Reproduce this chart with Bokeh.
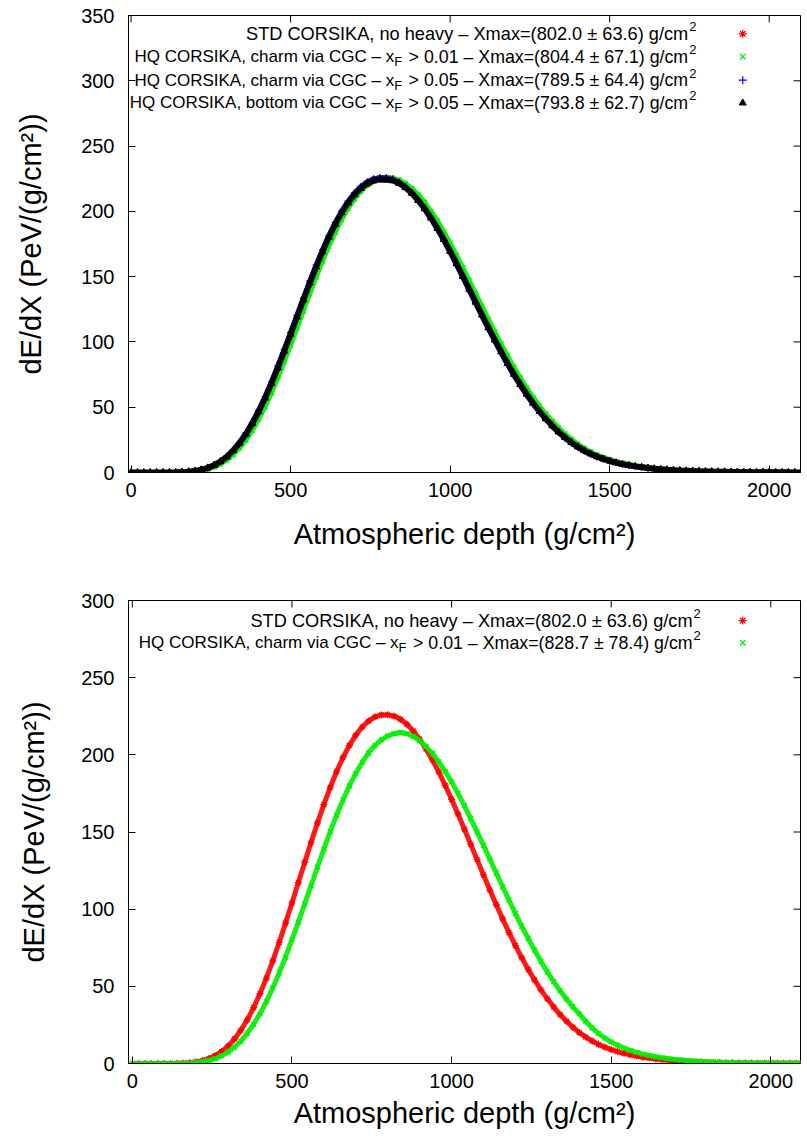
import math
from bokeh.plotting import figure
from bokeh.models import Range1d, Label, FixedTicker
from bokeh.layouts import column
from bokeh.embed import file_html
from bokeh.resources import INLINE

# ---------------- data ----------------
depth = list(range(0, 2101, 20))  # atmospheric depth, g/cm^2

std_no_heavy = [0, 0, 0, 0, 0, 0.01, 0.03, 0.09, 0.23, 0.52, 1.03, 1.88, 3.2, 5.1, 7.8, 11.3,
                15.9, 21.5, 28.3, 36.2, 45.3, 55.4, 66.5, 78.4, 91.0, 104.0, 117.2, 130.3, 143.3,
                155.9, 167.8, 179.0, 189.2, 198.3, 206.1, 212.8, 218.0, 221.9, 224.6, 225.8, 225.9,
                225.1, 223.0, 219.8, 215.5, 210.1, 203.8, 196.7, 188.8, 180.2, 171.2,
                161.7, 151.9, 142.0, 132.1, 122.2, 112.4, 102.9, 93.7, 84.8, 76.4,
                68.5, 61.0, 54.1, 47.7, 41.9, 36.6, 31.7, 27.4, 23.5, 20.1,
                17.1, 14.6, 12.4, 10.6, 9.0, 7.7, 6.6, 5.6, 4.8, 4.1,
                3.5, 2.95, 2.5, 2.15, 1.85, 1.55, 1.35, 1.15, 0.97, 0.83,
                0.7, 0.6, 0.52, 0.44, 0.37, 0.32, 0.27, 0.23, 0.2, 0.17,
                0.15, 0.12, 0.1, 0.09, 0.08]

charm_001_top = [0, 0, 0, 0, 0, 0.0, 0.02, 0.06, 0.16, 0.37, 0.77, 1.45, 2.5, 4.1, 6.4, 9.5,
                 13.6, 18.7, 24.9, 32.2, 40.7, 50.3, 60.9, 72.4, 84.7, 97.5, 110.6, 123.7, 136.8,
                 149.6, 161.8, 173.4, 184.1, 193.7, 202.2, 209.4, 215.4, 219.9, 223.2, 225.2, 225.8,
                 225.5, 224.0, 221.4, 217.6, 212.8, 207.0, 200.2, 192.8, 184.5, 175.7,
                 166.4, 156.8, 147.0, 137.0, 127.2, 117.3, 107.7, 98.3, 89.3, 80.6,
                 72.5, 64.8, 57.6, 50.9, 44.8, 39.3, 34.2, 29.6, 25.5, 21.8,
                 18.6, 15.9, 13.5, 11.5, 9.8, 8.4, 7.2, 6.1, 5.2, 4.45,
                 3.8, 3.2, 2.7, 2.3, 2.0, 1.7, 1.45, 1.25, 1.06, 0.9,
                 0.77, 0.65, 0.56, 0.48, 0.4, 0.35, 0.3, 0.25, 0.22, 0.18,
                 0.16, 0.14, 0.11, 0.1, 0.09]

charm_005_top = [0, 0, 0, 0, 0, 0.02, 0.05, 0.13, 0.3, 0.65, 1.24, 2.2, 3.7, 5.8, 8.7, 12.5,
                 17.3, 23.2, 30.3, 38.5, 47.8, 58.2, 69.5, 81.6, 94.3, 107.3, 120.5, 133.6, 146.5,
                 158.9, 170.6, 181.6, 191.5, 200.3, 207.8, 214.1, 219.0, 222.6, 224.9, 225.8, 225.7,
                 224.6, 222.2, 218.7, 214.2, 208.5, 202.0, 194.7, 186.6, 178.0, 168.8,
                 159.3, 149.4, 139.5, 129.6, 119.8, 110.0, 100.6, 91.5, 82.7, 74.4,
                 66.6, 59.3, 52.5, 46.2, 40.6, 35.4, 30.6, 26.4, 22.6, 19.3,
                 16.5, 14.0, 11.9, 10.2, 8.7, 7.4, 6.35, 5.4, 4.6, 3.95,
                 3.35, 2.85, 2.4, 2.05, 1.77, 1.5, 1.3, 1.1, 0.93, 0.8,
                 0.68, 0.58, 0.5, 0.42, 0.36, 0.31, 0.26, 0.22, 0.19, 0.16,
                 0.14, 0.12, 0.1, 0.09, 0.08]

bottom_005_top = [0, 0, 0, 0, 0, 0.01, 0.04, 0.11, 0.27, 0.6, 1.15, 2.08, 3.5, 5.5, 8.3, 12.0,
                  16.7, 22.5, 29.5, 37.5, 46.8, 57.0, 68.3, 80.3, 93.0, 106.0, 119.1, 132.2, 145.1,
                  157.5, 169.3, 180.3, 190.2, 199.0, 206.5, 212.8, 217.6, 221.2, 223.5, 224.4, 224.2,
                  223.6, 221.5, 218.2, 213.8, 208.4, 202.0, 194.9, 187.0, 178.5, 169.4,
                  159.9, 150.1, 140.3, 130.4, 120.6, 110.9, 101.5, 92.4, 83.5, 75.2,
                  67.4, 60.0, 53.1, 46.8, 41.1, 35.8, 31.0, 26.8, 23.0, 19.6,
                  16.7, 14.3, 12.1, 10.4, 8.8, 7.5, 6.45, 5.5, 4.7, 4.0,
                  3.4, 2.9, 2.45, 2.1, 1.8, 1.52, 1.32, 1.12, 0.95, 0.81,
                  0.69, 0.59, 0.51, 0.43, 0.36, 0.31, 0.26, 0.22, 0.19, 0.16,
                  0.14, 0.12, 0.1, 0.09, 0.08]

charm_001_bottom = [0, 0, 0, 0, 0, 0.0, 0.015, 0.05, 0.13, 0.29, 0.6, 1.1, 1.94, 3.2, 4.95, 7.35,
                    10.5, 14.5, 19.5, 25.4, 32.2, 40.1, 49.0, 58.7, 69.0, 80.2, 91.6, 103.4, 115.3,
                    127.3, 138.9, 150.2, 160.9, 170.8, 179.9, 188.0, 195.1, 201.2, 206.1, 209.7, 212.3,
                    213.7, 214.5, 213.7, 211.9, 209.2, 205.5, 200.9, 195.5, 189.3, 182.5,
                    175.0, 167.1, 158.7, 150.1, 141.3, 132.4, 123.4, 114.5, 105.8, 97.2,
                    88.9, 81.0, 73.4, 66.2, 59.4, 53.0, 47.1, 41.7, 36.7, 32.2,
                    27.3, 23.1, 19.5, 16.5, 14.0, 11.85, 10.0, 8.5, 7.2, 6.1,
                    5.15, 4.35, 3.7, 3.1, 2.65, 2.25, 1.9, 1.6, 1.35, 1.15,
                    0.97, 0.82, 0.7, 0.59, 0.5, 0.42, 0.36, 0.3, 0.26, 0.22,
                    0.18, 0.16, 0.13, 0.11, 0.09]

x_ticks = [0, 500, 1000, 1500, 2000]
y_ticks_top = [0, 50, 100, 150, 200, 250, 300, 350]
y_ticks_bottom = [0, 50, 100, 150, 200, 250, 300]

legend_top = [
    ("STD CORSIKA, no heavy \u2013 Xmax=(802.0 \u00b1 63.6) g/cm", None, None),
    ("HQ CORSIKA, charm via CGC \u2013 x", "F", "> 0.01 \u2013 Xmax=(804.4 \u00b1 67.1) g/cm"),
    ("HQ CORSIKA, charm via CGC \u2013 x", "F", "> 0.05 \u2013 Xmax=(789.5 \u00b1 64.4) g/cm"),
    ("HQ CORSIKA, bottom via CGC \u2013 x", "F", "> 0.05 \u2013 Xmax=(793.8 \u00b1 62.7) g/cm"),
]
legend_bottom = [
    ("STD CORSIKA, no heavy \u2013 Xmax=(802.0 \u00b1 63.6) g/cm", None, None),
    ("HQ CORSIKA, charm via CGC \u2013 x", "F", "> 0.01 \u2013 Xmax=(828.7 \u00b1 78.4) g/cm"),
]

for s in (std_no_heavy, charm_001_top, charm_005_top, bottom_005_top, charm_001_bottom):
    assert len(s) == len(depth), len(s)

FONT = "Liberation Sans"
RED, GREEN, BLUE, BLACK = "#ff0000", "#00ee00", "#0000ff", "#000000"


def style(p, yticks, x1, y1, ylab_standoff, xlab_standoff):
    p.xgrid.visible = False
    p.ygrid.visible = False
    p.outline_line_color = "black"
    p.outline_line_width = 1
    p.background_fill_color = "white"
    p.border_fill_color = "white"
    for ax in (p.xaxis[0], p.yaxis[0]):
        ax.major_tick_in = 7
        ax.major_tick_out = 0
        ax.minor_tick_line_color = None
        ax.axis_line_color = "black"
        ax.major_tick_line_color = "black"
        ax.major_label_text_font = FONT
        ax.major_label_text_font_size = "20px"
        ax.major_label_text_color = "black"
        ax.axis_label_text_font = FONT
        ax.axis_label_text_font_size = "29px"
        ax.axis_label_text_font_style = "normal"
        ax.axis_label_text_color = "black"
    p.xaxis.ticker = FixedTicker(ticks=x_ticks)
    p.yaxis.ticker = FixedTicker(ticks=yticks)
    p.xaxis.major_label_standoff = 10
    p.yaxis.major_label_standoff = 14
    p.xaxis.axis_label = "Atmospheric depth (g/cm\u00b2)"
    p.yaxis.axis_label = "dE/dX (PeV/(g/cm\u00b2))"
    p.yaxis.axis_label_standoff = ylab_standoff
    p.xaxis.axis_label_standoff = xlab_standoff
    # mirrored inward ticks on the top and right frame edges (half of each dash is clipped)
    p.scatter(x_ticks, [y1] * len(x_ticks), marker="dash", size=14, angle=math.pi / 2,
              line_color="black", line_width=1)
    p.scatter([x1] * len(yticks), yticks, marker="dash", size=14, line_color="black", line_width=1)


def series(p, ys, color, marker, lw):
    p.line(depth, ys, line_color=color, line_width=lw, line_alpha=0.9)
    if marker == "triangle":
        p.scatter(depth, ys, marker=marker, size=7, fill_color=color, line_color=color)
    else:
        p.scatter(depth, ys, marker=marker, size=7, line_color=color, line_width=1.2)


def legend(p, rows, colors, markers, x_end, x_mark, ys):
    for (pre, sub, rest), c, m, y in zip(rows, colors, markers, ys):
        if sub is None:
            p.add_layout(Label(x=x_end, y=y, text=pre, text_align="right", text_baseline="middle",
                               text_font=FONT, text_font_size="18.2px", text_color="black"))
        else:
            p.add_layout(Label(x=x_end, y=y, text=rest, text_align="right", text_baseline="middle",
                               text_font=FONT, text_font_size="17.8px", text_color="black"))
            p.add_layout(Label(x=x_end, y=y, x_offset=-294, y_offset=-5, text=sub, text_align="left",
                               text_baseline="middle", text_font=FONT, text_font_size="13px",
                               text_color="black"))
            p.add_layout(Label(x=x_end, y=y, x_offset=-294, text=pre, text_align="right",
                               text_baseline="middle", text_font=FONT, text_font_size="17px",
                               text_color="black"))
        p.add_layout(Label(x=x_end, y=y, x_offset=1, y_offset=7, text="2", text_align="left",
                           text_baseline="middle", text_font=FONT, text_font_size="13px",
                           text_color="black"))
        if m == "triangle":
            p.scatter([x_mark], [y], marker=m, size=7, fill_color=c, line_color=c)
        else:
            p.scatter([x_mark], [y], marker=m, size=8, line_color=c, line_width=1.2)


H1 = 570
X1 = (-8, 2098)
p1 = figure(width=807, height=H1, x_range=Range1d(*X1), y_range=Range1d(0, 350),
            output_backend="svg", toolbar_location=None,
            min_border_left=128, min_border_right=2, min_border_top=15, min_border_bottom=H1 - 472)
style(p1, y_ticks_top, X1[1], 350, 31, 18)
series(p1, std_no_heavy, RED, "asterisk", 5)
series(p1, charm_001_top, GREEN, "x", 5)
series(p1, charm_005_top, BLUE, "cross", 5)
series(p1, bottom_005_top, BLACK, "triangle", 6)
legend(p1, legend_top, [RED, GREEN, BLUE, BLACK], ["asterisk", "x", "cross", "triangle"],
       1746, 1917, [336, 318.5, 300.5, 283])

H2 = 1136 - H1
X2 = (-12, 2093)
p2 = figure(width=807, height=H2, x_range=Range1d(*X2), y_range=Range1d(0, 300),
            output_backend="svg", toolbar_location=None,
            min_border_left=122, min_border_right=7, min_border_top=600 - H1, min_border_bottom=73)
style(p2, y_ticks_bottom, X2[1], 300, 28, 6)
series(p2, std_no_heavy, RED, "asterisk", 5)
series(p2, charm_001_bottom, GREEN, "x", 5)
legend(p2, legend_bottom, [RED, GREEN], ["asterisk", "x"], 1755, 1912, [287, 272.7])

layout = column(p1, p2, spacing=0)
open("out.html", "w").write(file_html(layout, INLINE))
